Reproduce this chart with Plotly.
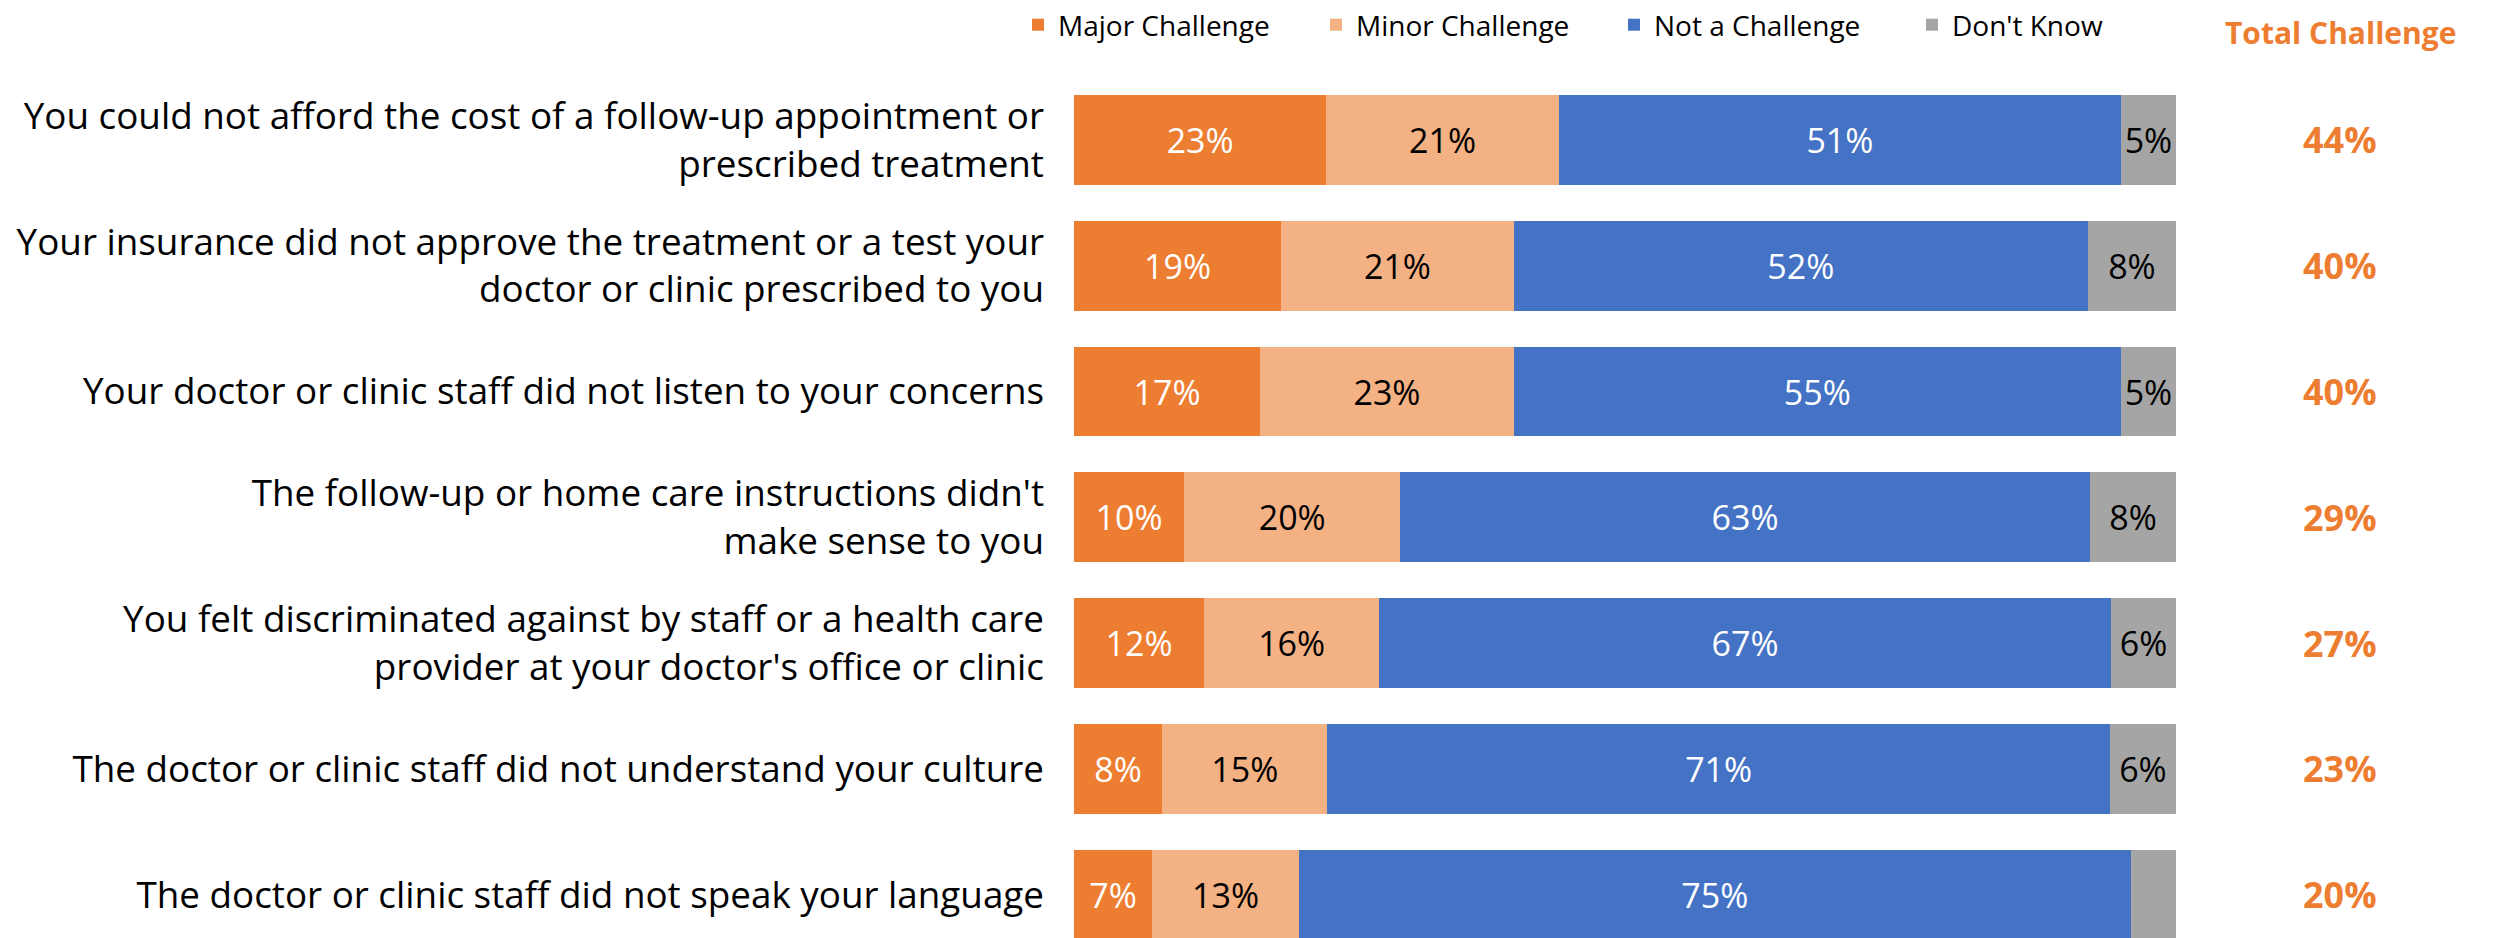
import plotly.graph_objects as go

categories = [
    "You could not afford the cost of a follow-up appointment or<br>prescribed treatment",
    "Your insurance did not approve the treatment or a test your<br>doctor or clinic prescribed to you",
    "Your doctor or clinic staff did not listen to your concerns",
    "The follow-up or home care instructions didn't<br>make sense to you",
    "You felt discriminated against by staff or a health care<br>provider at your doctor's office or clinic",
    "The doctor or clinic staff did not understand your culture",
    "The doctor or clinic staff did not speak your language",
]

# bar lengths
major = [22.9, 18.8, 16.9, 10.0, 11.8, 8.0, 7.1]
minor = [21.1, 21.1, 23.0, 19.6, 15.9, 15.0, 13.3]
not_ch = [51.0, 52.1, 55.1, 62.6, 66.4, 71.0, 75.5]
dont_know = [5.0, 8.0, 5.0, 7.8, 5.9, 6.0, 4.1]

# printed labels
major_lbl = ["23%", "19%", "17%", "10%", "12%", "8%", "7%"]
minor_lbl = ["21%", "21%", "23%", "20%", "16%", "15%", "13%"]
not_lbl = ["51%", "52%", "55%", "63%", "67%", "71%", "75%"]
dk_lbl = ["5%", "8%", "5%", "8%", "6%", "6%", ""]

total_challenge = ["44%", "40%", "40%", "29%", "27%", "23%", "20%"]

series = [
    ("Major Challenge", major, major_lbl, "#ED7D31", "white"),
    ("Minor Challenge", minor, minor_lbl, "#F4B183", "black"),
    ("Not a Challenge", not_ch, not_lbl, "#4472C4", "white"),
    ("Don't Know", dont_know, dk_lbl, "#A5A5A5", "black"),
]

FONT = "Open Sans"
W, H = 2494, 938
L, R, T, B = 1074, 318, 77, 0
plot_h = H - T - B
plot_w = W - L - R

fig = go.Figure()
for name, vals, lbls, color, tcolor in series:
    fig.add_trace(go.Bar(
        y=categories, x=vals, orientation="h", name=name,
        marker=dict(color=color, line=dict(width=0)),
        text=lbls, textposition="inside", insidetextanchor="middle",
        textangle=0, constraintext="none",
        textfont=dict(family=FONT, size=34, color=tcolor),
        hoverinfo="skip",
    ))

# Total challenge column
x_tot = (2340 - L) / plot_w
for cat, tot in zip(categories, total_challenge):
    fig.add_annotation(
        x=x_tot, xref="paper", y=cat, yref="y", text=f"<b>{tot}</b>",
        showarrow=False, xanchor="center", yanchor="middle",
        font=dict(family=FONT, size=36, color="#ED7D31"),
    )
fig.add_annotation(
    x=(2340 - L) / plot_w, xref="paper", y=(H - B - 33) / plot_h, yref="paper",
    text="<b>Total Challenge</b>", showarrow=False,
    xanchor="center", yanchor="middle",
    font=dict(family=FONT, size=30, color="#ED7D31"),
)

fig.update_layout(
    width=W, height=H,
    margin=dict(l=L, r=R, t=T, b=B, pad=0),
    barmode="stack", bargap=0.285,
    plot_bgcolor="white", paper_bgcolor="white",
    font=dict(family=FONT, color="black"),
    legend=dict(
        orientation="h", x=(1018 - L) / plot_w, xanchor="left",
        y=(H - B - 25) / plot_h, yanchor="middle",
        font=dict(family=FONT, size=28, color="black"),
        entrywidth=253, entrywidthmode="pixels",
        traceorder="normal", bgcolor="rgba(0,0,0,0)",
    ),
    xaxis=dict(range=[0, 100], visible=False, fixedrange=True),
    yaxis=dict(
        type="category", range=[(H - B - T) / 125.8 - 0.5, -0.5],
        showgrid=False, zeroline=False, showline=False, ticks="",
        ticklabelstandoff=29,
        tickfont=dict(family=FONT, size=36.8, color="black"),
    ),
)

fig.write_html("out.html", config={"displayModeBar": False},
               post_script="document.body.style.margin='0';")
